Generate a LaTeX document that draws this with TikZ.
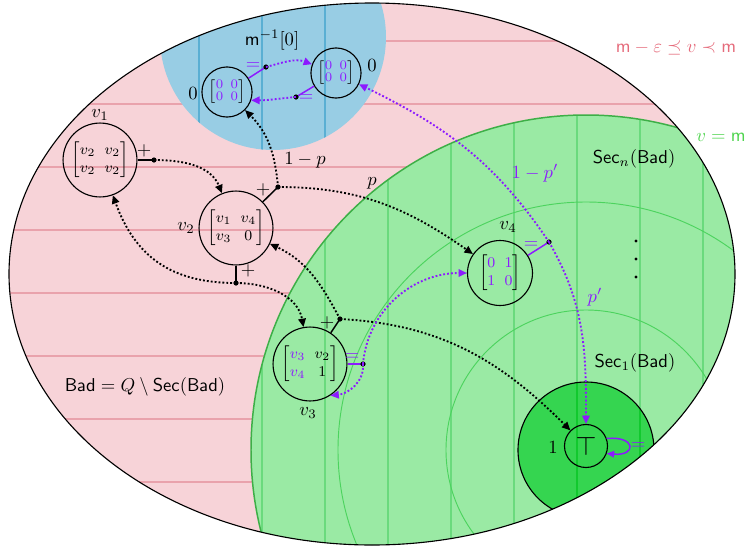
\documentclass[tikz,border=0pt]{standalone}
\usepackage{amsmath,amssymb}
\usetikzlibrary{arrows.meta}
\definecolor{pinkfill}{HTML}{F7D3D8}
\definecolor{pinkline}{HTML}{E9A2AC}
\definecolor{bluefill}{HTML}{98CDE4}
\definecolor{blueline}{HTML}{5AAFD3}
\definecolor{greenfill}{HTML}{9AEAA4}
\definecolor{greenline}{HTML}{6ADA7D}
\definecolor{greenthin}{HTML}{4CD35E}
\definecolor{greenedge}{HTML}{3DAF47}
\definecolor{darkgreen}{HTML}{35D550}
\definecolor{darkgreenline}{HTML}{12C92E}
\definecolor{vio}{HTML}{8C1AFF}
\definecolor{pinktext}{HTML}{E56B7B}
\definecolor{greentext}{HTML}{4ED44E}
\newcommand{\mtx}[5][2.5pt]{{\setlength\arraycolsep{#1}$\left[\begin{array}{@{}cc@{}}#2&#3\\#4&#5\end{array}\right]$}}
\newcommand{\vi}[1]{{\color{vio}#1}}
\begin{document}
\begin{tikzpicture}[x=0.01887cm,y=0.01887cm,
  state/.style={circle,draw,line width=0.6pt,inner sep=0pt,minimum size=39.7pt,font=\footnotesize},
  zstate/.style={state,minimum size=26.9pt,font=\scriptsize\renewcommand{\arraystretch}{0.8}},
  dotarr/.style={line width=1pt,dash pattern=on 1pt off 1.1pt,-{Triangle[length=4.5pt,width=4pt]}},
  link/.style={line width=0.8pt},
  lbl/.style={inner sep=0pt},
]
\useasboundingbox (0,0) rectangle (747,-551);
\begin{scope}
  \clip (372,-274) ellipse [x radius=363, y radius=271];
  \fill[pinkfill] (0,0) rectangle (747,-551);
  \foreach \yy in {41,104,...,482} \draw[pinkline,line width=0.8pt] (0,-\yy) -- (747,-\yy);
  % green region
  \fill[greenfill] (586,-450) circle [radius=335];
  \begin{scope}
    \clip (586,-450) circle [radius=335];
    \foreach \xx in {262,325,...,703} \draw[greenline,line width=0.8pt] (\xx,0) -- (\xx,-551);
    \draw[greenthin,line width=0.5pt] (586,-450) circle [radius=140];
    \draw[greenthin,line width=0.5pt] (586,-450) circle [radius=248];
  \end{scope}
  \draw[greenedge,line width=0.8pt] (586,-450) circle [radius=335];
  \fill[darkgreen] (586,-450) circle [radius=68];
  \begin{scope}
    \clip (586,-450) circle [radius=68];
    \foreach \xx in {514,577,640} \draw[darkgreenline,line width=0.8pt] (\xx,0) -- (\xx,-551);
  \end{scope}
  \draw[line width=0.6pt] (586,-450) circle [radius=68];
  % blue region
  \fill[bluefill] (273,-37) circle [radius=113];
  \begin{scope}
    \clip (273,-37) circle [radius=113];
    \foreach \xx in {199,262,325} \draw[blueline,line width=0.8pt] (\xx,0) -- (\xx,-551);
  \end{scope}
\end{scope}
\draw[line width=0.6pt] (372,-274) ellipse [x radius=363, y radius=271];

% region texts
\node (tpk) [pinktext] at (676,-48) {$\mathsf{m}-\varepsilon\preceq v\prec\mathsf{m}$};
\node (tgr) [greentext] at (721,-137) {$v=\mathsf{m}$};
\node (tsecn) at (634,-159) {$\mathsf{Sec}_n(\mathsf{Bad})$};
\node (tsec1) at (635,-363) {$\mathsf{Sec}_1(\mathsf{Bad})$};
\node (tbad) at (145,-387) {$\mathsf{Bad}=Q\setminus\mathsf{Sec}(\mathsf{Bad})$};
\node (tm) at (272,-40) {$\mathsf{m}^{-1}[0]$};
\foreach \yy in {241,259,277} \fill (636,-\yy) circle [radius=0.9pt];

% states
\node[zstate] (zeroL) at (227,-92) {\mtx[2pt]{\vi0}{\vi0}{\vi0}{\vi0}};
\node[zstate] (zeroR) at (336,-73) {\mtx[2pt]{\vi0}{\vi0}{\vi0}{\vi0}};
\node[state] (v1) at (100,-160) {\mtx{v_2}{v_2}{v_2}{v_2}};
\node[state] (v2) at (236,-228) {\mtx{v_1}{v_4}{v_3}{0}};
\node[state] (v3) at (310,-364) {\mtx{\vi{v_3}}{v_2}{\vi{v_4}}{1}};
\node[state,minimum size=34.9pt] (v4) at (500,-273) {\mtx{\vi0}{\vi1}{\vi1}{\vi0}};
\node[state,minimum size=23.1pt,font=\Large] (T) at (586,-446) {$\top$};

% state labels
\node (lzL) at (193,-93) {$0$};
\node (lzR) at (372,-65) {$0$};
\node (lv1) at (100,-115) {$v_1$};
\node (lv2) at (186,-228) {$v_2$};
\node (lv3) at (308,-413) {$v_3$};
\node (lv4) at (508,-227) {$v_4$};
\node (lT) at (553,-447) {$1$};

% branching points
\coordinate (dA) at (154,-160);
\coordinate (dB) at (278,-187);
\coordinate (dC) at (236,-283);
\coordinate (dD) at (340,-319);
\coordinate (dE) at (363,-364);
\coordinate (dF) at (549,-242);
\coordinate (dG) at (266,-67);
\coordinate (dH) at (296,-97);

% solid stubs
\draw[link] (v1) -- (dA);
\draw[link] (v2) -- (dB);
\draw[link] (v2) -- (dC);
\draw[link] (v3) -- (dD);
\draw[link,vio] (v3) -- (dE);
\draw[link,vio] (v4) -- (dF);
\draw[link,vio] (zeroL) -- (dG);
\draw[link,vio] (zeroR) -- (dH);
\foreach \d in {dA,dB,dC,dD,dE,dF,dG,dH} \fill (\d) circle [radius=1.4pt];

% stub labels
\node (pA) at (144,-151) {$+$};
\node (pB) at (263,-190) {$+$};
\node (pC) at (248,-271) {$+$};
\node (pD) at (327,-323) {$+$};
\node[vio] (eE) at (352,-357) {$=$};
\node[vio] (eF) at (531,-245) {$=$};
\node[vio] (eG) at (253,-66) {$=$};
\node[vio] (eH) at (306,-98) {$=$};
\node[vio] (eT) at (638,-446) {$=$};

% dotted transitions
\draw[dotarr] (dA) to[out=0,in=112] (v2);
\draw[dotarr] (dB) to[out=95,in=-45] (zeroL);
\draw[dotarr] (dB) to[out=0,in=145] (v4);
\draw[dotarr] (dC) to[out=180,in=-70,looseness=1.1] (v1);
\draw[dotarr] (dC) to[out=0,in=100] (v3);
\draw[dotarr] (dD) to[out=118,in=-25] (v2);
\draw[dotarr] (dD) to[out=-3,in=135] (T);
\draw[dotarr,vio] (dE) to[out=-85,in=5] (v3.-57);
\draw[dotarr,vio] (dE) to[out=85,in=180] (v4);
\draw[dotarr,vio] (dF) to[out=124,in=-26] (zeroR);
\draw[dotarr,vio] (dF) to[out=-60,in=90] (T);
\draw[dotarr,vio] (dG) to[out=15,in=160] (zeroR);
\draw[dotarr,vio] (dH) to[out=185,in=0] (zeroL.-19);
\draw[link,vio,-{Triangle[length=4pt,width=3.5pt]}] (T.20) .. controls +(5:30) and +(-5:30) .. (T.-20);

% probability labels
\node (l1p) at (305,-160) {$1-p$};
\node (lp) at (372,-183) {$p$};
\node[vio] (l1pp) at (535,-173) {$1-p'$};
\node[vio] (lpp) at (595,-297) {$p'$};
\end{tikzpicture}
\end{document}
